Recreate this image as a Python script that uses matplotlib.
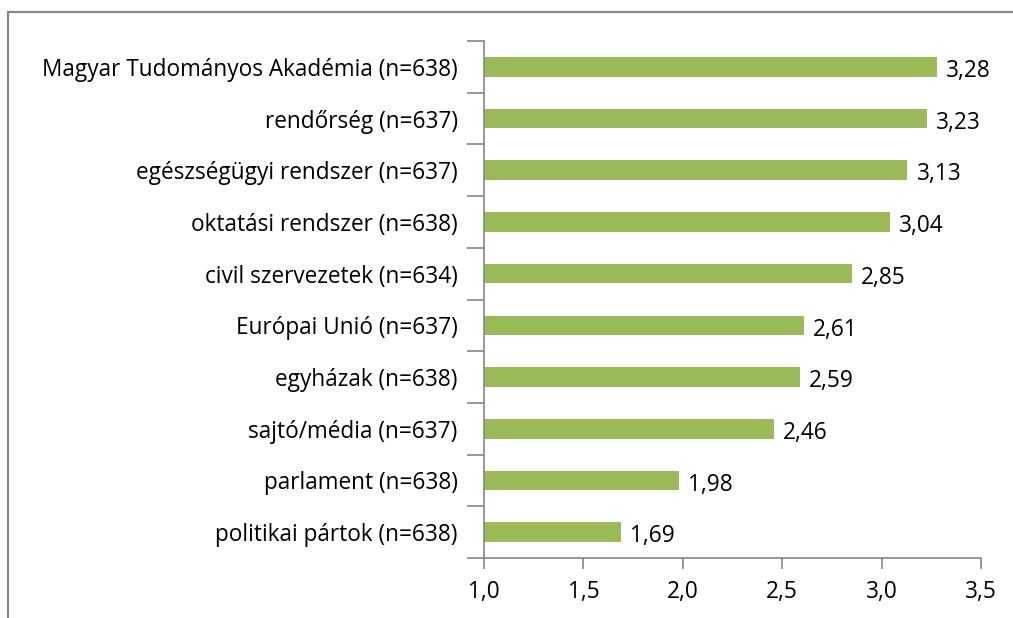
import matplotlib
matplotlib.use("Agg")
import matplotlib.pyplot as plt
from matplotlib.patches import Rectangle
import numpy as np

categories = [
    "Magyar Tudományos Akadémia (n=638)",
    "rendőrség (n=637)",
    "egészségügyi rendszer (n=637)",
    "oktatási rendszer (n=638)",
    "civil szervezetek (n=634)",
    "Európai Unió (n=637)",
    "egyházak (n=638)",
    "sajtó/média (n=637)",
    "parlament (n=638)",
    "politikai pártok (n=638)",
]
values = [3.28, 3.23, 3.13, 3.04, 2.85, 2.61, 2.59, 2.46, 1.98, 1.69]
xticks = [1.0, 1.5, 2.0, 2.5, 3.0, 3.5]
base = 1.0

plt.rcParams['font.family'] = ['Open Sans', 'DejaVu Sans']
fs = 16.3

fig = plt.figure(figsize=(10.13, 6.18), dpi=100)
ax = fig.add_axes([484/1013, 1-558/618, (981-484)/1013, (558-41)/618])

n = len(categories)
y = np.arange(n)
ax.barh(y, [v - base for v in values], left=base, height=0.38, color="#9BBB59", edgecolor="none")
ax.set_ylim(n - 0.5, -0.5)
ax.set_xlim(1.0, 3.5)

gray = "#868686"
for s in ["top", "right"]:
    ax.spines[s].set_visible(False)
for s in ["left", "bottom"]:
    ax.spines[s].set_color(gray)
    ax.spines[s].set_linewidth(1.2)

ax.set_xticks(xticks)
ax.set_xticklabels([f"{t:.1f}".replace(".", ",") for t in xticks], fontsize=fs)
ax.tick_params(axis="x", direction="out", length=8, width=1.2, color=gray, pad=8)

ax.set_yticks(y)
ax.set_yticklabels(categories, fontsize=fs)
ax.tick_params(axis="y", length=0, pad=19)
ax.set_yticks(np.arange(-0.5, n + 0.5, 1), minor=True)
ax.tick_params(axis="y", which="minor", direction="out", length=12, width=1.2, color=gray)

for yi, v in zip(y, values):
    ax.annotate(f"{v:.2f}".replace(".", ","), xy=(v, yi), xytext=(6.5, -3),
                textcoords="offset points", va="center", ha="left", fontsize=fs)

fig.patches.append(Rectangle((8/1013, -0.05), 1.1, 1 - 12/618 + 0.05, transform=fig.transFigure,
                             fill=False, edgecolor="#888888", linewidth=1.6))

fig.savefig("out.png", dpi=100)
